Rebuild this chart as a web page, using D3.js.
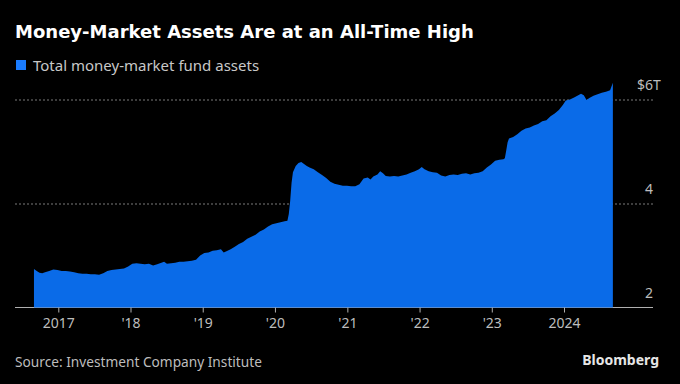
<!DOCTYPE html>
<html>
<head>
<meta charset="utf-8">
<script src="https://cdn.jsdelivr.net/npm/d3@7"></script>
<style>
  html, body { margin: 0; padding: 0; background: #000; }
  svg { display: block; font-family: "Noto Sans", "Liberation Sans", Arial, sans-serif; }
</style>
</head>
<body>
<svg id="chart" width="680" height="384"></svg>
<script>
const dates = [
"2016-08-31","2016-09-14","2016-09-28","2016-10-12","2016-10-26","2016-11-16","2016-12-07","2016-12-28",
"2017-01-18","2017-02-08","2017-03-01","2017-03-22","2017-04-12","2017-05-03","2017-05-24","2017-06-14",
"2017-07-05","2017-07-26","2017-08-16","2017-09-06","2017-09-27","2017-10-18","2017-11-08","2017-11-29",
"2017-12-20","2018-01-10","2018-01-31","2018-02-21","2018-03-14","2018-04-04","2018-04-25","2018-05-16",
"2018-06-06","2018-06-20","2018-07-04","2018-07-25","2018-08-15","2018-09-05","2018-09-26","2018-10-17",
"2018-11-07","2018-11-28","2018-12-19","2019-01-09","2019-01-30","2019-02-20","2019-03-13","2019-04-03",
"2019-04-17","2019-05-01","2019-05-22","2019-06-12","2019-07-03","2019-07-24","2019-08-14","2019-09-04",
"2019-09-25","2019-10-16","2019-11-06","2019-11-27","2019-12-18","2020-01-08","2020-01-29","2020-02-19",
"2020-03-04","2020-03-11","2020-03-18","2020-03-25","2020-04-01","2020-04-15","2020-04-29","2020-05-13",
"2020-05-27","2020-06-10","2020-06-24","2020-07-15","2020-08-05","2020-08-26","2020-09-16","2020-10-07",
"2020-10-28","2020-11-18","2020-12-09","2020-12-30","2021-01-20","2021-02-10","2021-03-03","2021-03-24",
"2021-04-14","2021-04-28","2021-05-12","2021-06-02","2021-06-16","2021-06-30","2021-07-14","2021-08-04",
"2021-08-25","2021-09-15","2021-10-06","2021-10-27","2021-11-17","2021-12-08","2021-12-29","2022-01-12",
"2022-01-26","2022-02-16","2022-03-09","2022-03-30","2022-04-20","2022-05-11","2022-06-01","2022-06-22",
"2022-07-13","2022-08-03","2022-08-24","2022-09-14","2022-10-05","2022-10-26","2022-11-16","2022-12-07",
"2022-12-28","2023-01-18","2023-02-08","2023-03-01","2023-03-08","2023-03-15","2023-03-22","2023-03-29",
"2023-04-19","2023-05-10","2023-05-31","2023-06-21","2023-07-12","2023-08-02","2023-08-23","2023-09-13",
"2023-10-04","2023-10-25","2023-11-15","2023-12-06","2023-12-27","2024-01-10","2024-01-31","2024-02-21",
"2024-03-13","2024-03-27","2024-04-10","2024-04-24","2024-05-08","2024-05-29","2024-06-19","2024-07-10",
"2024-07-31","2024-08-21","2024-09-04"
];
const assets = [
2.74,2.70,2.67,2.66,2.68,2.70,2.73,2.72,
2.70,2.70,2.69,2.68,2.66,2.65,2.65,2.64,
2.64,2.63,2.66,2.70,2.72,2.73,2.74,2.75,
2.79,2.84,2.85,2.84,2.83,2.84,2.81,2.83,
2.86,2.88,2.84,2.85,2.86,2.88,2.88,2.89,
2.90,2.92,3.00,3.05,3.06,3.09,3.10,3.12,
3.06,3.08,3.12,3.17,3.22,3.26,3.32,3.36,
3.40,3.46,3.50,3.56,3.60,3.62,3.64,3.66,
3.67,3.80,4.05,4.40,4.60,4.72,4.78,4.80,
4.76,4.72,4.69,4.66,4.60,4.55,4.49,4.42,
4.38,4.36,4.34,4.34,4.33,4.33,4.37,4.48,
4.50,4.46,4.52,4.56,4.62,4.58,4.53,4.52,
4.53,4.52,4.54,4.56,4.59,4.62,4.66,4.70,
4.66,4.62,4.60,4.59,4.54,4.52,4.55,4.56,
4.55,4.57,4.58,4.56,4.58,4.59,4.62,4.69,
4.75,4.82,4.84,4.85,4.87,5.02,5.18,5.25,
5.28,5.33,5.40,5.44,5.46,5.50,5.53,5.58,
5.60,5.68,5.73,5.80,5.90,5.98,6.00,6.04,
6.08,6.11,6.08,5.99,6.03,6.07,6.10,6.13,
6.15,6.18,6.32
];
const xTickYears = ["2017","2018","2019","2020","2021","2022","2023","2024"];
const xTickLabels = ["2017","'18","'19","'20","'21","'22","'23","2024"];
const yTickValues = [2, 4, 6];
const yTickLabels = ["2", "4", "$6"];
const yUnitSuffix = "T";
const title = "Money-Market Assets Are at an All-Time High";
const legendLabel = "Total money-market fund assets";
const source = "Source: Investment Company Institute";

const parse = d3.utcParse("%Y-%m-%d");
const data = dates.map((d, i) => ({ date: parse(d), value: assets[i] }));

const svg = d3.select("#chart");
const blue = "#0a6be8";
const left = 15, right = 653;

const x = d3.scaleUtc()
  .domain([parse("2017-01-01"), parse("2024-01-01")])
  .range([58.3, 564]);
const y = d3.scaleLinear().domain([2, 6]).range([307.5, 99.5]);

svg.append("rect").attr("width", 680).attr("height", 384).attr("fill", "#000");

// Title
const titleEl = svg.append("text").attr("x", 15).attr("y", 38)
  .attr("fill", "#fff").attr("font-size", 18).attr("font-weight", "bold")
  .style("font-family", "'DejaVu Sans', sans-serif")
  .text(title);
const tw = titleEl.node().getComputedTextLength();
if (tw > 0) titleEl.attr("font-size", Math.min(19, 18 * 459 / tw));

// Legend
svg.append("rect").attr("x", 16).attr("y", 60).attr("width", 10).attr("height", 10).attr("fill", "#1a7cff");
svg.append("text").attr("x", 33).attr("y", 71)
  .attr("fill", "#c8c8c8").attr("font-size", 15).text(legendLabel);

// Gridlines (non-baseline)
svg.append("g").selectAll("line")
  .data(yTickValues.filter(v => v !== 2))
  .join("line")
  .attr("x1", left).attr("x2", right)
  .attr("y1", d => y(d) + 0.5).attr("y2", d => y(d) + 0.5)
  .attr("stroke", "#7a7a7a").attr("stroke-width", 1)
  .attr("stroke-dasharray", "2,2");

// Baseline
svg.append("line")
  .attr("x1", left).attr("x2", right)
  .attr("y1", y(2)).attr("y2", y(2))
  .attr("stroke", "#b0b0b0").attr("stroke-width", 1);

// Area
const area = d3.area()
  .x(d => x(d.date))
  .y0(y(2))
  .y1(d => y(d.value))
  .curve(d3.curveLinear);
svg.append("path").datum(data).attr("d", area).attr("fill", blue);

// X axis ticks
const xAxis = d3.axisBottom(x)
  .tickValues(xTickYears.map(t => parse(t + "-01-01")))
  .tickFormat((d, i) => xTickLabels[i])
  .tickSize(5).tickPadding(6);
const gx = svg.append("g").attr("transform", `translate(0,${y(2)})`).call(xAxis);
gx.select(".domain").remove();
gx.selectAll(".tick line").attr("stroke", "#b0b0b0");
gx.selectAll(".tick text").attr("fill", "#bdbdbd").attr("font-size", 14)
  .style("font-family", "'Noto Sans', 'Liberation Sans', Arial, sans-serif");

// Y labels
const gy = svg.append("g");
gy.selectAll("text.yl")
  .data(yTickValues)
  .join("text").attr("class", "yl")
  .attr("x", right).attr("y", d => y(d) - 9.5)
  .attr("text-anchor", "end")
  .attr("fill", "#bdbdbd").attr("font-size", 14)
  .text((d, i) => yTickLabels[i]);
gy.append("text")
  .attr("x", right).attr("y", y(6) - 9.5)
  .attr("fill", "#bdbdbd").attr("font-size", 14)
  .text(yUnitSuffix);

// Source
svg.append("text").attr("x", 15).attr("y", 367)
  .attr("fill", "#bdbdbd").attr("font-size", 13.7).text(source);

// Bloomberg
svg.append("text").attr("x", 659).attr("y", 365).attr("text-anchor", "end")
  .attr("fill", "#e6e6e6").attr("font-size", 14).attr("font-weight", "bold")
  .text("Bloomberg");
</script>
</body>
</html>
